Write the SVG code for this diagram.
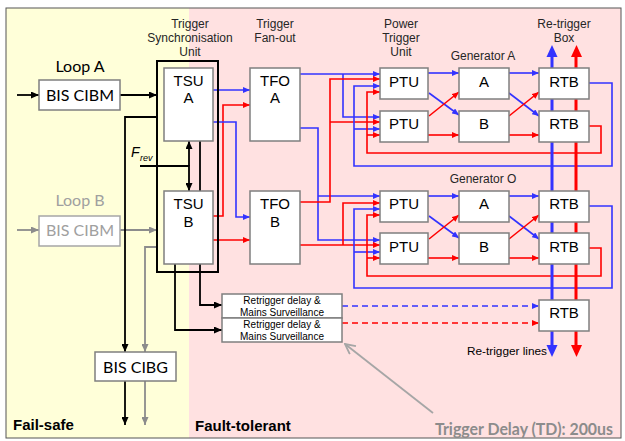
<svg xmlns="http://www.w3.org/2000/svg" width="625" height="441" viewBox="0 0 625 441">
<style>
.box{fill:#fff;stroke:#7f7f7f;stroke-width:1.5}
.gbox{fill:#fff;stroke:#a6a6a6;stroke-width:1.5}
.b{stroke:#3333ff;stroke-width:1.6;fill:none}
.r{stroke:#ff0000;stroke-width:1.6;fill:none}
.k{stroke:#000;stroke-width:1.8;fill:none}
.g{stroke:#8c8c8c;stroke-width:1.8;fill:none}
.bd{stroke:#3333ff;stroke-width:1.6;fill:none;stroke-dasharray:6 4}
.rd{stroke:#ff0000;stroke-width:1.6;fill:none;stroke-dasharray:6 4}
.ab{marker-end:url(#mb)}
.ar{marker-end:url(#mr)}
.ak{marker-end:url(#mk)}
.ag{marker-end:url(#mg)}
.h{font-family:"Liberation Sans",Arial,sans-serif;font-size:12px;fill:#262626;text-anchor:middle}
.n{font-family:"Liberation Sans",Arial,sans-serif;font-size:15px;fill:#000;text-anchor:middle}
.s{font-family:"Liberation Sans",Arial,sans-serif;font-size:10px;fill:#000;text-anchor:middle}
.c{font-family:Lato,"Open Sans",sans-serif;font-size:16px;fill:#000;text-anchor:middle}
.cg{font-family:Lato,"Open Sans",sans-serif;font-size:16px;fill:#a0a0a0;text-anchor:middle}
.bold{font-family:"Liberation Sans",Arial,sans-serif;font-size:15px;font-weight:bold;fill:#000}
</style>
<defs>
<marker id="mb" markerUnits="userSpaceOnUse" markerWidth="7" markerHeight="6" refX="7" refY="3" orient="auto"><path d="M0,0 L7,3 L0,6 z" fill="#3333ff"/></marker>
<marker id="mr" markerUnits="userSpaceOnUse" markerWidth="7" markerHeight="6" refX="7" refY="3" orient="auto"><path d="M0,0 L7,3 L0,6 z" fill="#ff0000"/></marker>
<marker id="mk" markerUnits="userSpaceOnUse" markerWidth="8" markerHeight="7" refX="8" refY="3.5" orient="auto"><path d="M0,0 L8,3.5 L0,7 z" fill="#000"/></marker>
<marker id="mg" markerUnits="userSpaceOnUse" markerWidth="8" markerHeight="7" refX="8" refY="3.5" orient="auto"><path d="M0,0 L8,3.5 L0,7 z" fill="#8c8c8c"/></marker>
<marker id="mo" markerUnits="userSpaceOnUse" markerWidth="12" markerHeight="12" refX="11" refY="6" orient="auto"><path d="M1,1 L11,6 L1,11" fill="none" stroke="#a6a6a6" stroke-width="1.8"/></marker>
</defs>

<g id="background">
<rect x="6" y="8" width="183" height="430" fill="#ffffd9"/>
<rect x="189" y="8" width="432" height="430" fill="#ffe1e1"/>
<rect x="6" y="8" width="615" height="430" fill="none" stroke="#555" stroke-width="1"/>
</g>

<g id="connectors">
<!-- inputs -->
<path class="k ak" d="M17,95 H39"/>
<path class="k ak" d="M120,95 H157"/>
<path class="g ag" d="M17,230 H39"/>
<path class="g ag" d="M120,230 H157"/>
<path class="k ak" d="M157,117 H125 V352"/>
<path class="g ag" d="M157,247 H145 V352"/>
<path class="k ak" d="M125,381 V425"/>
<path class="g ag" d="M145,381 V425"/>
<!-- Frev -->
<path class="k ak" d="M140,166 H189 V191"/>
<path class="k ak" d="M189,166 V141"/>
<path class="k" d="M200,141 V191"/>
<!-- to retrigger delay -->
<path class="k ak" d="M200,264 V305 H222"/>
<path class="k ak" d="M175,264 V330 H222"/>
<!-- TSU -> TFO -->
<path class="b ab" d="M213,90 H250"/>
<path class="r ar" d="M213,216 H223 V105 H250"/>
<path class="b ab" d="M213,122 H236 V217 H250"/>
<path class="r ar" d="M213,240 H250"/>
<!-- TFO -> PTU -->
<path class="b ab" d="M300,74 H380"/>
<path class="b ab" d="M343,74 V117 H380"/>
<path class="b ab" d="M300,128 H318 V240 H380"/>
<path class="b ab" d="M318,196 H380"/>
<path class="r ar" d="M300,202 H330 V79 H380"/>
<path class="r ar" d="M330,122 H380"/>
<path class="r ar" d="M300,245 H380"/>
<path class="r ar" d="M343,245 V203 H380"/>
<!-- loops from RTB back to PTU -->
<path class="b ab" d="M589,83 H612 V166 H354 V86 H380"/>
<path class="b ab" d="M354,129 H380"/>
<path class="r ar" d="M589,126 H601 V153 H367 V92 H380"/>
<path class="r ar" d="M367,135 H380"/>
<path class="b ab" d="M589,206 H612 V288 H354 V209 H380"/>
<path class="b ab" d="M354,252 H380"/>
<path class="r ar" d="M589,248 H601 V276 H367 V215 H380"/>
<path class="r ar" d="M367,258 H380"/>
<!-- PTU -> Generator A -->
<path class="b ab" d="M428,73 H459"/>
<path class="b ab" d="M429,93 L459,115"/>
<path class="r ar" d="M429,116 L459,92"/>
<path class="r ar" d="M428,135 H459"/>
<path class="b ab" d="M509,73 H539"/>
<path class="b ab" d="M509,93 L539,116"/>
<path class="r ar" d="M509,116 L539,92"/>
<path class="r ar" d="M509,135 H539"/>
<!-- PTU -> Generator O -->
<path class="b ab" d="M428,196 H459"/>
<path class="b ab" d="M429,216 L459,238"/>
<path class="r ar" d="M429,239 L459,215"/>
<path class="r ar" d="M428,258 H459"/>
<path class="b ab" d="M509,196 H539"/>
<path class="b ab" d="M509,216 L539,239"/>
<path class="r ar" d="M509,239 L539,215"/>
<path class="r ar" d="M509,258 H539"/>
<!-- re-trigger lines -->
<path d="M552,57 V345" stroke="#3333ff" stroke-width="3" fill="none"/>
<path d="M576,57 V345" stroke="#ff0000" stroke-width="3" fill="none"/>
<path d="M552,45 L557.5,57 L546.5,57 z" fill="#3333ff"/>
<path d="M576.5,45 L582,57 L571,57 z" fill="#ff0000"/>
<path d="M546.5,345 L557.5,345 L552,357 z" fill="#3333ff"/>
<path d="M571,345 L582,345 L576.5,357 z" fill="#ff0000"/>
<!-- dashed -->
<path class="bd ab" d="M342,306 H539"/>
<path class="rd ar" d="M342,323 H539"/>
<!-- trigger delay pointer -->
<path d="M433,413 L345,344" stroke="#a6a6a6" stroke-width="1.8" fill="none" marker-end="url(#mo)"/>
</g>

<g id="labels">
<text class="h"><tspan x="190" y="28">Trigger</tspan><tspan x="190" y="42">Synchronisation</tspan><tspan x="190" y="56">Unit</tspan></text>
<text class="h"><tspan x="275" y="28">Trigger</tspan><tspan x="275" y="42">Fan-out</tspan></text>
<text class="h"><tspan x="401" y="28">Power</tspan><tspan x="401" y="42">Trigger</tspan><tspan x="401" y="56">Unit</tspan></text>
<text class="h"><tspan x="564" y="28">Re-trigger</tspan><tspan x="564" y="42">Box</tspan></text>
<text class="h" x="483" y="60">Generator A</text>
<text class="h" x="483" y="183">Generator O</text>
<text class="c" x="80" y="72">Loop A</text>
<text class="cg" x="80" y="206">Loop B</text>
<text x="467" y="355" font-family="Liberation Sans, Arial, sans-serif" font-size="11.5" fill="#000" textLength="80" lengthAdjust="spacingAndGlyphs">Re-trigger lines</text>
<text class="bold" x="13" y="430">Fail-safe</text>
<text class="bold" x="195" y="431">Fault-tolerant</text>
<text x="435" y="435" font-family="Lato, 'Open Sans', sans-serif" font-size="17" font-weight="bold" fill="#8c8c8c" textLength="178" lengthAdjust="spacingAndGlyphs">Trigger Delay (TD): 200us</text>
<text x="131" y="157" font-family="Liberation Sans, Arial, sans-serif" font-size="14" font-style="italic" fill="#000">F</text>
<text x="140" y="161" font-family="Liberation Sans, Arial, sans-serif" font-size="9" font-style="italic" fill="#000">rev</text>
</g>

<g id="bis-cibm-a"><rect class="box" x="39" y="80" width="81" height="30"/><text class="c" x="80" y="101">BIS CIBM</text></g>
<g id="bis-cibm-b"><rect class="gbox" x="39" y="216" width="81" height="30"/><text class="cg" x="80" y="236">BIS CIBM</text></g>
<g id="bis-cibg"><rect class="box" x="95" y="352" width="81" height="29"/><text class="c" x="135.5" y="372.5">BIS CIBG</text></g>

<g id="tsu"><rect x="157" y="61" width="61" height="211" fill="none" stroke="#000" stroke-width="2"/></g>
<g id="tsu-a"><rect class="box" x="164" y="68" width="49" height="73"/><text class="n"><tspan x="188.5" y="86">TSU</tspan><tspan x="188.5" y="103">A</tspan></text></g>
<g id="tsu-b"><rect class="box" x="164" y="191" width="49" height="73"/><text class="n"><tspan x="188.5" y="209">TSU</tspan><tspan x="188.5" y="227">B</tspan></text></g>

<g id="tfo-a"><rect class="box" x="250" y="68" width="50" height="73"/><text class="n"><tspan x="275" y="86">TFO</tspan><tspan x="275" y="103">A</tspan></text></g>
<g id="tfo-b"><rect class="box" x="250" y="191" width="50" height="73"/><text class="n"><tspan x="275" y="209">TFO</tspan><tspan x="275" y="227">B</tspan></text></g>

<g id="ptu-1"><rect class="box" x="380" y="68" width="48" height="31"/><text class="n" x="404" y="86.5">PTU</text></g>
<g id="ptu-2"><rect class="box" x="380" y="111" width="48" height="31"/><text class="n" x="404" y="129">PTU</text></g>
<g id="ptu-3"><rect class="box" x="380" y="191" width="48" height="31"/><text class="n" x="404" y="209">PTU</text></g>
<g id="ptu-4"><rect class="box" x="380" y="233" width="48" height="31"/><text class="n" x="404" y="252">PTU</text></g>

<g id="gen-a-a"><rect class="box" x="459" y="68" width="50" height="31"/><text class="n" x="484" y="86.5">A</text></g>
<g id="gen-a-b"><rect class="box" x="459" y="111" width="50" height="31"/><text class="n" x="484" y="129">B</text></g>
<g id="gen-o-a"><rect class="box" x="459" y="191" width="50" height="31"/><text class="n" x="484" y="209">A</text></g>
<g id="gen-o-b"><rect class="box" x="459" y="233" width="50" height="31"/><text class="n" x="484" y="252">B</text></g>

<g id="rtb-1"><rect class="box" x="539" y="68" width="50" height="31"/><text class="n" x="564" y="86.5">RTB</text></g>
<g id="rtb-2"><rect class="box" x="539" y="111" width="50" height="31"/><text class="n" x="564" y="129">RTB</text></g>
<g id="rtb-3"><rect class="box" x="539" y="191" width="50" height="31"/><text class="n" x="564" y="209">RTB</text></g>
<g id="rtb-4"><rect class="box" x="539" y="233" width="50" height="31"/><text class="n" x="564" y="252">RTB</text></g>
<g id="rtb-5"><rect class="box" x="539" y="300" width="50" height="31"/><text class="n" x="564" y="318">RTB</text></g>

<g id="retrigger-1"><rect class="box" x="222" y="294" width="120" height="24"/><text class="s"><tspan x="282" y="304">Retrigger delay &amp;</tspan><tspan x="282" y="316">Mains Surveillance</tspan></text></g>
<g id="retrigger-2"><rect class="box" x="222" y="318" width="120" height="24"/><text class="s"><tspan x="282" y="328">Retrigger delay &amp;</tspan><tspan x="282" y="340">Mains Surveillance</tspan></text></g>
</svg>
